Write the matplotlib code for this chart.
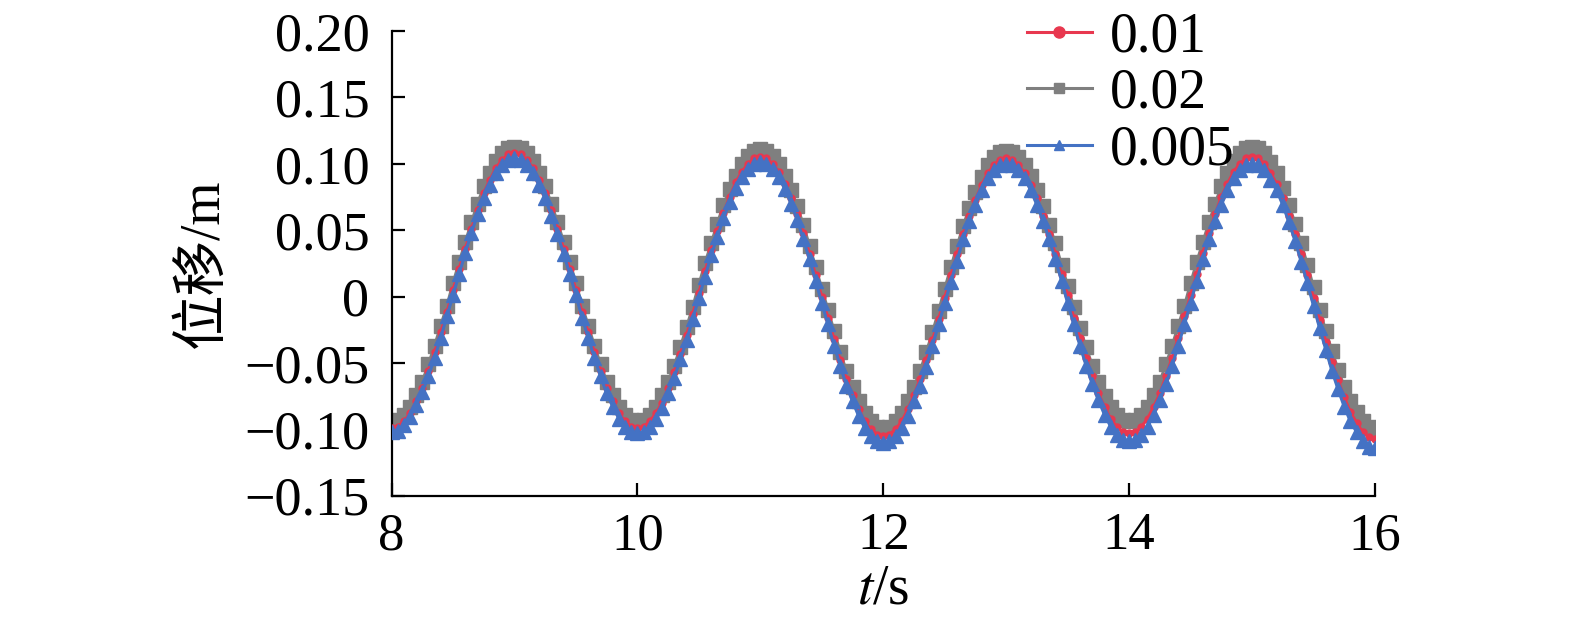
import numpy as np
import matplotlib
matplotlib.use("Agg")
import matplotlib.pyplot as plt
from matplotlib.lines import Line2D

plt.rcParams['font.family'] = ['Liberation Serif', 'Noto Sans CJK SC', 'DejaVu Sans']
plt.rcParams['mathtext.fontset'] = 'stix'

# sample times (s): 8.00 ... 16.00 every 0.05 s
t = np.round(8 + 0.05 * np.arange(161), 2)

# displacement (m)
disp_001 = [
    -0.099, -0.098, -0.094, -0.088, -0.079, -0.069, -0.056, -0.042, -0.027, -0.012,
    0.005, 0.021, 0.036, 0.051, 0.065, 0.078, 0.088, 0.097, 0.103, 0.107,
    0.108, 0.107, 0.103, 0.097, 0.088, 0.078, 0.065, 0.051, 0.036, 0.021,
    0.005, -0.012, -0.027, -0.042, -0.056, -0.069, -0.079, -0.088, -0.094, -0.098,
    -0.099, -0.098, -0.094, -0.088, -0.080, -0.069, -0.057, -0.043, -0.029, -0.013,
    0.003, 0.019, 0.035, 0.049, 0.063, 0.075, 0.086, 0.094, 0.100, 0.104,
    0.105, 0.104, 0.100, 0.094, 0.085, 0.074, 0.062, 0.048, 0.032, 0.016,
    0.000, -0.016, -0.032, -0.048, -0.062, -0.074, -0.085, -0.094, -0.100, -0.104,
    -0.105, -0.104, -0.100, -0.094, -0.085, -0.074, -0.062, -0.048, -0.033, -0.017,
    -0.001, 0.016, 0.032, 0.047, 0.061, 0.073, 0.084, 0.093, 0.099, 0.103,
    0.104, 0.103, 0.099, 0.093, 0.084, 0.074, 0.061, 0.047, 0.032, 0.017,
    0.001, -0.016, -0.031, -0.046, -0.060, -0.073, -0.083, -0.092, -0.098, -0.102,
    -0.103, -0.102, -0.098, -0.092, -0.083, -0.073, -0.060, -0.046, -0.031, -0.015,
    0.001, 0.017, 0.033, 0.048, 0.062, 0.075, 0.085, 0.094, 0.100, 0.104,
    0.105, 0.104, 0.100, 0.093, 0.085, 0.074, 0.061, 0.047, 0.032, 0.016,
    -0.001, -0.018, -0.034, -0.049, -0.063, -0.076, -0.087, -0.095, -0.102, -0.106,
    -0.107,
]

disp_002 = [
    -0.094, -0.093, -0.089, -0.083, -0.074, -0.064, -0.051, -0.037, -0.022, -0.007,
    0.010, 0.026, 0.041, 0.056, 0.070, 0.083, 0.093, 0.102, 0.108, 0.112,
    0.113, 0.112, 0.108, 0.102, 0.093, 0.083, 0.070, 0.056, 0.041, 0.026,
    0.010, -0.007, -0.022, -0.037, -0.051, -0.064, -0.074, -0.083, -0.089, -0.093,
    -0.094, -0.093, -0.089, -0.083, -0.074, -0.064, -0.052, -0.038, -0.023, -0.008,
    0.009, 0.025, 0.040, 0.055, 0.069, 0.081, 0.091, 0.100, 0.106, 0.110,
    0.111, 0.110, 0.106, 0.100, 0.091, 0.080, 0.068, 0.054, 0.038, 0.022,
    0.006, -0.010, -0.026, -0.042, -0.056, -0.068, -0.079, -0.088, -0.094, -0.098,
    -0.099, -0.098, -0.094, -0.088, -0.079, -0.068, -0.056, -0.042, -0.027, -0.011,
    0.006, 0.022, 0.038, 0.053, 0.067, 0.079, 0.090, 0.099, 0.105, 0.109,
    0.110, 0.109, 0.105, 0.099, 0.091, 0.080, 0.068, 0.054, 0.040, 0.024,
    0.008, -0.008, -0.024, -0.038, -0.052, -0.064, -0.075, -0.083, -0.089, -0.093,
    -0.094, -0.093, -0.089, -0.083, -0.074, -0.064, -0.051, -0.037, -0.022, -0.007,
    0.010, 0.026, 0.041, 0.056, 0.070, 0.083, 0.093, 0.102, 0.108, 0.112,
    0.113, 0.112, 0.108, 0.101, 0.093, 0.082, 0.069, 0.055, 0.040, 0.024,
    0.007, -0.010, -0.026, -0.041, -0.055, -0.068, -0.079, -0.087, -0.094, -0.098,
    -0.099,
]

disp_0005 = [
    -0.102, -0.101, -0.097, -0.091, -0.082, -0.072, -0.060, -0.046, -0.031, -0.015,
    0.001, 0.017, 0.033, 0.048, 0.062, 0.074, 0.084, 0.093, 0.099, 0.103,
    0.104, 0.103, 0.099, 0.093, 0.084, 0.074, 0.061, 0.047, 0.032, 0.017,
    0.001, -0.016, -0.031, -0.046, -0.060, -0.073, -0.083, -0.092, -0.098, -0.102,
    -0.103, -0.102, -0.098, -0.092, -0.084, -0.073, -0.061, -0.047, -0.033, -0.017,
    -0.001, 0.015, 0.031, 0.045, 0.059, 0.071, 0.082, 0.090, 0.096, 0.100,
    0.101, 0.100, 0.096, 0.090, 0.081, 0.070, 0.058, 0.043, 0.028, 0.012,
    -0.005, -0.021, -0.037, -0.052, -0.067, -0.079, -0.090, -0.099, -0.105, -0.109,
    -0.110, -0.109, -0.105, -0.099, -0.090, -0.079, -0.067, -0.053, -0.037, -0.021,
    -0.005, 0.011, 0.027, 0.043, 0.057, 0.069, 0.080, 0.089, 0.095, 0.099,
    0.100, 0.099, 0.095, 0.089, 0.080, 0.069, 0.057, 0.043, 0.028, 0.012,
    -0.005, -0.021, -0.037, -0.052, -0.066, -0.078, -0.089, -0.098, -0.104, -0.108,
    -0.109, -0.108, -0.104, -0.098, -0.089, -0.078, -0.066, -0.052, -0.037, -0.021,
    -0.005, 0.012, 0.028, 0.043, 0.057, 0.069, 0.080, 0.089, 0.095, 0.099,
    0.100, 0.099, 0.095, 0.088, 0.080, 0.069, 0.056, 0.042, 0.026, 0.010,
    -0.007, -0.024, -0.040, -0.056, -0.070, -0.083, -0.094, -0.102, -0.109, -0.113,
    -0.114,
]

labels = ['0.01', '0.02', '0.005']
xticks = [8, 10, 12, 14, 16]
yticks = [-0.15, -0.10, -0.05, 0, 0.05, 0.10, 0.15, 0.20]
ytick_labels = ['\u22120.15', '\u22120.10', '\u22120.05', '0', '0.05', '0.10', '0.15', '0.20']

c_red = '#E8384F'
c_gray = '#7F7F7F'
c_blue = '#4472C4'

fig = plt.figure(figsize=(15.75, 6.33), dpi=100)
ax = fig.add_axes([0.2486, 0.2169, 0.8730 - 0.2486, 0.951 - 0.2169])

ax.plot(t, disp_002, color=c_gray, lw=2.2, marker='s', ms=9.5, mec=c_gray, mfc=c_gray, zorder=2)
ax.plot(t, disp_001, color=c_red, lw=2.2, marker='o', ms=5, mec=c_red, mfc=c_red, zorder=3)
ax.plot(t, disp_0005, color=c_blue, lw=2.2, marker='^', ms=10.5, mec=c_blue, mfc=c_blue, zorder=4)

ax.set_xlim(8, 16)
ax.set_ylim(-0.15, 0.20)
ax.set_xticks(xticks)
ax.set_xticklabels([str(v) for v in xticks])
ax.set_yticks(yticks)
ax.set_yticklabels(ytick_labels)

for s in ['top', 'right']:
    ax.spines[s].set_visible(False)
for s in ['left', 'bottom']:
    ax.spines[s].set_linewidth(1.6)

ax.tick_params(axis='both', direction='in', length=9.5, width=1.6)
ax.tick_params(axis='x', labelsize=38, pad=12)
ax.tick_params(axis='y', labelsize=39, pad=16)

ax.set_xlabel(r'$t$/s', fontsize=40, labelpad=2)
ax.set_ylabel('位移/m', fontsize=40, labelpad=10)

h1 = Line2D([], [], color=c_red, lw=2.2, marker='o', ms=8)
h2 = Line2D([], [], color=c_gray, lw=2.2, marker='s', ms=7.5)
h3 = Line2D([], [], color=c_blue, lw=2.2, marker='^', ms=7.5)
leg = fig.legend([h1, h2, h3], labels, loc='upper left', bbox_to_anchor=(0.652, 0.982),
                 frameon=False, fontsize=40, handlelength=1.17, handletextpad=0.32,
                 labelspacing=0.08, borderpad=0.0, borderaxespad=0.0)

fig.savefig('out.png', dpi=100)
